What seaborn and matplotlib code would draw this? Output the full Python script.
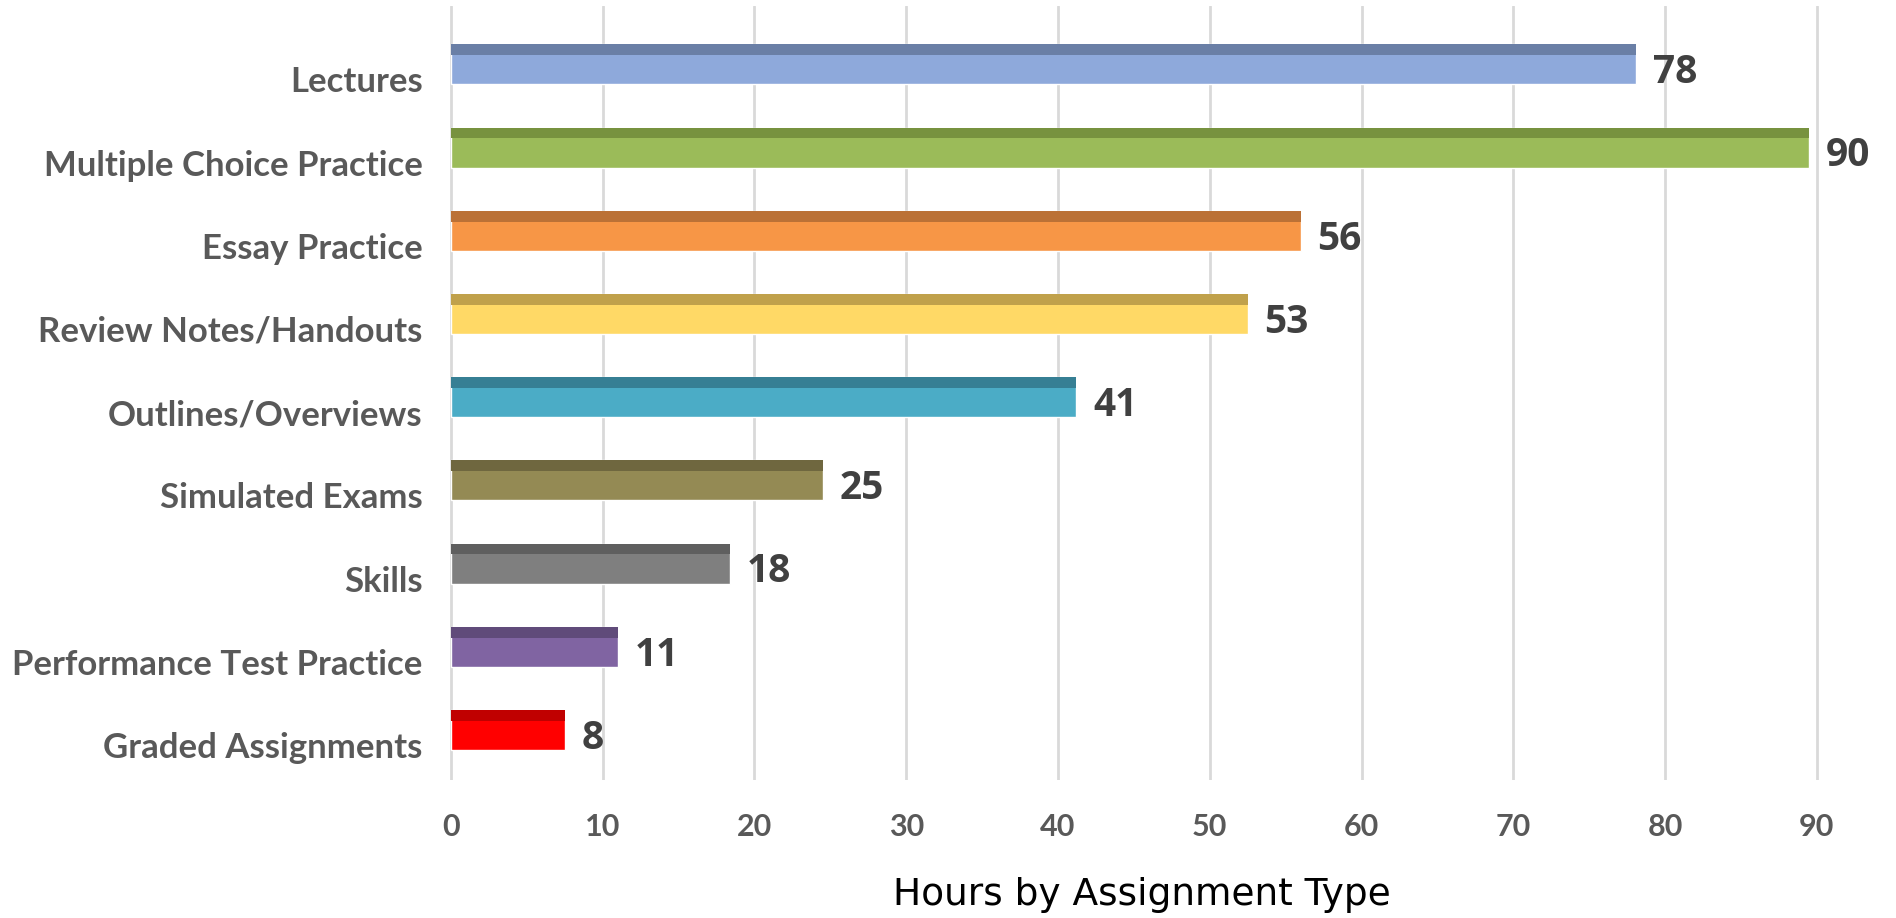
import numpy as np
import pandas as pd
import matplotlib
matplotlib.use("Agg")
import matplotlib.pyplot as plt
import matplotlib.transforms as mtransforms
import seaborn as sns

# data
categories = ['Lectures', 'Multiple Choice Practice', 'Essay Practice',
              'Review Notes/Handouts', 'Outlines/Overviews', 'Simulated Exams',
              'Skills', 'Performance Test Practice', 'Graded Assignments']
hours = [78.1, 89.5, 56.0, 52.5, 41.2, 24.5, 18.4, 11.0, 7.5]
hour_labels = ['78', '90', '56', '53', '41', '25', '18', '11', '8']
x_ticks = [0, 10, 20, 30, 40, 50, 60, 70, 80, 90]

bar_colors = ['#8EA9DB', '#9BBB59', '#F79646', '#FFD966', '#4BACC6',
              '#948A54', '#7F7F7F', '#8064A2', '#FF0000']
top_colors = ['#6A7FA6', '#77923F', '#BB7136', '#C0A14B', '#367F94',
              '#6F673F', '#5F5F5F', '#604B7A', '#C00000']

df = pd.DataFrame({'Category': categories, 'Hours': hours})

sns.set_style('white')
label_font = ['Lato', 'DejaVu Sans']

fig = plt.figure(figsize=(18.96, 9.18), dpi=100)
ax = fig.add_axes([0.2354, 0.1503, 0.7269, 0.8431])

bar_h = 0.48
sns.barplot(data=df, x='Hours', y='Category', hue='Category', palette=bar_colors,
            orient='h', width=bar_h, legend=False, ax=ax, saturation=1)

# darker strip along the top of every bar
pos = np.arange(len(categories))
strip_h = 0.13
ax.barh(pos - bar_h / 2 + strip_h / 2, hours, height=strip_h, color=top_colors,
        linewidth=0)

for i, (v, lab) in enumerate(zip(hours, hour_labels)):
    ax.text(v + 1.1, i + 0.1, lab, va='center', ha='left', fontsize=28,
            fontweight='bold', color='#404040', family=['Open Sans', 'DejaVu Sans'])

ax.set_xlim(-0.3, 90.5)
ax.set_ylim(8.6, -0.7)
ax.set_xticks(x_ticks)
ax.set_xticklabels([str(t) for t in x_ticks])
ax.xaxis.grid(True, color='#D9D9D9', linewidth=2)
ax.yaxis.grid(False)
ax.set_axisbelow(True)
for s in ax.spines.values():
    s.set_visible(False)

ax.tick_params(axis='x', length=0, pad=24, labelsize=22, labelcolor='#595959')
ax.tick_params(axis='y', length=0, pad=17, labelsize=25, labelcolor='#595959')
for t in ax.get_xticklabels() + ax.get_yticklabels():
    t.set_family(label_font)
    t.set_fontweight('bold')

# category labels sit a little below the bar centres in the reference
shift = mtransforms.ScaledTranslation(0, -0.15, fig.dpi_scale_trans)
for t in ax.get_yticklabels():
    t.set_transform(t.get_transform() + shift)

ax.set_xlabel('')
ax.set_ylabel('')

fig.text(0.6025, 0.025, 'Hours by Assignment Type', ha='center', va='center',
         fontsize=27, color='black', family='DejaVu Sans')

fig.savefig('out.png', dpi=100, facecolor='white')
